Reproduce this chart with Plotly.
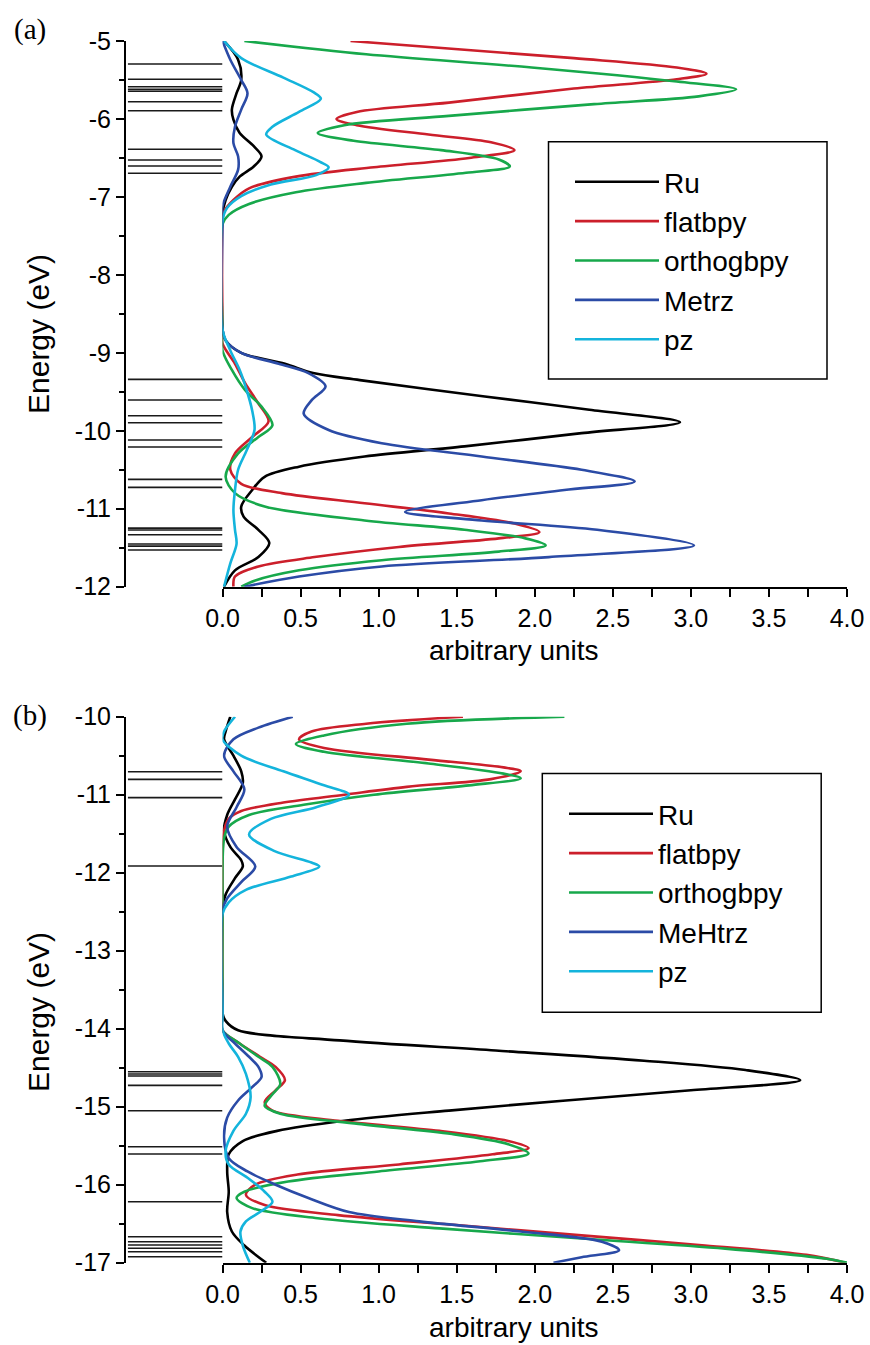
import plotly.graph_objects as go

# ---------------- data: panel (a) ----------------
levels_a = [-5.295, -5.491, -5.586, -5.620, -5.645, -5.779, -5.894,
            -6.389, -6.527, -6.604, -6.697,
            -9.340, -9.606, -9.807, -9.897, -10.119, -10.208, -10.623, -10.726,
            -11.248, -11.273, -11.334, -11.453, -11.479, -11.530]

ru_a_E = [-5.0, -5.24, -5.5, -5.67, -5.88, -6.01, -6.18, -6.35, -6.48, -6.61, -6.74, -6.87, -7.04, -7.21,
          -8.70, -8.84, -9.0, -9.14, -9.26, -9.35, -9.56, -9.73, -9.89, -10.03, -10.2, -10.33, -10.46,
          -10.59, -10.76, -10.97, -11.1, -11.27, -11.44, -11.62, -11.79, -12.0]
ru_a_v = [0.01, 0.10, 0.12, 0.09, 0.06, 0.07, 0.11, 0.20, 0.25, 0.20, 0.11, 0.06, 0.02, 0.0,
          0.0, 0.02, 0.12, 0.40, 0.58, 0.88, 1.68, 2.35, 2.93, 2.30, 1.55, 0.91, 0.49,
          0.27, 0.19, 0.12, 0.135, 0.23, 0.30, 0.23, 0.08, 0.01]

flat_a_E = [-5.0, -5.22, -5.34, -5.42, -5.49, -5.61, -5.79, -5.91, -6.0, -6.08, -6.2, -6.3, -6.4, -6.5,
            -6.62, -6.74, -6.89, -7.04, -7.19, -7.3,
            -8.70, -8.88, -9.14, -9.39, -9.65, -9.88, -10.08, -10.29, -10.5, -10.68, -10.8, -10.93,
            -11.06, -11.19, -11.3, -11.38, -11.49, -11.62, -11.74, -11.87, -12.0]
flat_a_v = [0.82, 2.25, 2.91, 3.10, 2.91, 2.25, 1.45, 0.86, 0.73, 0.86, 1.32, 1.72, 1.87, 1.58,
            0.97, 0.47, 0.17, 0.07, 0.01, 0.0,
            0.0, 0.0, 0.08, 0.145, 0.23, 0.295, 0.19, 0.08, 0.05, 0.12, 0.38, 0.91,
            1.45, 1.87, 2.03, 1.77, 1.13, 0.59, 0.23, 0.08, 0.07]

ortho_a_E = [-5.0, -5.17, -5.34, -5.52, -5.62, -5.71, -5.81, -5.96, -6.08, -6.18, -6.28, -6.4, -6.52,
             -6.61, -6.69, -6.82, -6.94, -7.09, -7.23, -7.35,
             -8.70, -8.97, -9.22, -9.48, -9.69, -9.93, -10.08, -10.29, -10.59, -10.8, -10.97, -11.15,
             -11.27, -11.38, -11.47, -11.55, -11.66, -11.79, -11.92, -12.0]
ortho_a_v = [0.14, 0.92, 1.98, 2.91, 3.29, 3.05, 2.38, 1.45, 0.78, 0.61, 0.84, 1.40, 1.77,
             1.84, 1.56, 0.92, 0.47, 0.17, 0.04, 0.0,
             0.0, 0.0, 0.06, 0.145, 0.25, 0.32, 0.23, 0.10, 0.02, 0.08, 0.27, 0.91,
             1.55, 1.94, 2.07, 1.77, 1.02, 0.49, 0.21, 0.12]

metrz_a_E = [-5.0, -5.24, -5.5, -5.67, -5.88, -6.1, -6.31, -6.48, -6.65, -6.87, -7.12, -7.3,
             -8.70, -8.84, -9.0, -9.14, -9.26, -9.43, -9.61, -9.78, -9.99, -10.16, -10.33, -10.5,
             -10.65, -10.76, -10.89, -11.04, -11.15, -11.27, -11.47, -11.62, -11.74, -11.87, -12.0]
metrz_a_v = [0.0, 0.05, 0.12, 0.16, 0.12, 0.08, 0.07, 0.10, 0.10, 0.05, 0.0, 0.0,
             0.0, 0.02, 0.12, 0.36, 0.55, 0.66, 0.57, 0.52, 0.68, 1.02, 1.66, 2.30,
             2.64, 2.19, 1.66, 1.17, 1.66, 2.40, 3.02, 2.09, 1.02, 0.49, 0.14]

pz_a_E = [-5.0, -5.22, -5.47, -5.66, -5.74, -5.91, -6.1, -6.2, -6.4, -6.55, -6.62, -6.72, -6.84,
          -6.99, -7.14, -7.3,
          -8.70, -8.97, -9.22, -9.48, -9.74, -9.99, -10.25, -10.5, -10.76, -11.02, -11.27, -11.45,
          -11.70, -12.0]
pz_a_v = [0.01, 0.12, 0.39, 0.585, 0.63, 0.49, 0.32, 0.28, 0.465, 0.625, 0.68, 0.60, 0.31,
          0.12, 0.03, 0.0,
          0.0, 0.05, 0.11, 0.155, 0.19, 0.205, 0.155, 0.10, 0.08, 0.07, 0.08, 0.09,
          0.05, 0.01]

# ---------------- data: panel (b) ----------------
levels_b = [-10.705, -10.803, -11.038, -11.914,
            -14.551, -14.581, -14.606, -14.726, -15.051, -15.513, -15.606, -16.218,
            -16.667, -16.731, -16.774, -16.815, -16.859, -16.923]

ru_b_E = [-10.0, -10.19, -10.29, -10.5, -10.7, -10.85, -11.06, -11.26, -11.46, -11.67, -11.84, -11.92,
          -12.07, -12.28, -12.48,
          -13.8, -13.9, -14.02, -14.15, -14.28, -14.41, -14.53, -14.66, -14.79, -14.92, -15.05,
          -15.18, -15.31, -15.44, -15.61, -15.83, -16.09, -16.35, -16.6, -16.78, -17.0]
ru_b_v = [0.05, 0.02, 0.01, 0.07, 0.12, 0.13, 0.08, 0.03, 0.01, 0.05, 0.12, 0.13,
          0.08, 0.02, 0.0,
          0.0, 0.02, 0.10, 0.75, 1.75, 2.70, 3.35, 3.70, 3.00, 2.20, 1.45,
          0.78, 0.35, 0.13, 0.04, 0.03, 0.04, 0.03, 0.06, 0.14, 0.28]

flat_b_E = [-10.0, -10.09, -10.19, -10.29, -10.4, -10.55, -10.65, -10.7, -10.8, -10.9, -11.0, -11.1,
            -11.21, -11.31, -11.46, -12.5,
            -13.8, -14.02, -14.19, -14.36, -14.49, -14.66, -14.79, -14.94, -15.05, -15.18, -15.31,
            -15.44, -15.53, -15.61, -15.74, -15.87, -16.0, -16.13, -16.26, -16.39, -16.52, -16.65,
            -16.78, -16.9, -17.0]
flat_b_v = [1.54, 0.92, 0.57, 0.49, 0.65, 1.32, 1.80, 1.91, 1.72, 1.18, 0.78, 0.39,
            0.12, 0.04, 0.01, 0.0,
            0.0, 0.0, 0.11, 0.24, 0.34, 0.40, 0.34, 0.27, 0.32, 0.74, 1.39,
            1.83, 1.96, 1.73, 1.13, 0.48, 0.21, 0.15, 0.27, 0.74, 1.52, 2.30,
            3.09, 3.74, 3.99]

ortho_b_E = [-10.0, -10.09, -10.24, -10.35, -10.45, -10.6, -10.73, -10.79, -10.88, -11.0, -11.13,
             -11.26, -11.41, -11.56, -12.5,
             -13.8, -14.02, -14.19, -14.36, -14.49, -14.71, -14.84, -14.99, -15.09, -15.22, -15.35,
             -15.48, -15.6, -15.7, -15.83, -15.96, -16.09, -16.17, -16.3, -16.43, -16.56, -16.69,
             -16.82, -16.95, -17.0]
ortho_b_v = [2.19, 1.18, 0.65, 0.47, 0.65, 1.32, 1.80, 1.91, 1.58, 0.97, 0.52,
             0.17, 0.04, 0.01, 0.0,
             0.0, 0.0, 0.11, 0.23, 0.32, 0.37, 0.32, 0.27, 0.37, 0.87, 1.47,
             1.83, 1.96, 1.65, 1.0, 0.42, 0.14, 0.09, 0.19, 0.61, 1.39, 2.30,
             3.22, 3.87, 4.0]

mehtrz_b_E = [-10.0, -10.14, -10.29, -10.5, -10.7, -10.93, -11.16, -11.41, -11.67, -11.92, -12.12,
              -12.33, -12.48,
              -13.8, -14.02, -14.19, -14.36, -14.49, -14.62, -14.75, -14.92, -15.14, -15.4, -15.66,
              -15.83, -16.0, -16.17, -16.35, -16.47, -16.6, -16.73, -16.84, -16.93, -17.0]
mehtrz_b_v = [0.45, 0.23, 0.07, 0.01, 0.07, 0.14, 0.09, 0.03, 0.09, 0.21, 0.12,
              0.03, 0.0,
              0.0, 0.0, 0.08, 0.17, 0.23, 0.25, 0.19, 0.10, 0.03, 0.01, 0.04,
              0.16, 0.34, 0.55, 0.81, 1.26, 1.91, 2.43, 2.54, 2.30, 2.12]

pz_b_E = [-10.0, -10.19, -10.29, -10.5, -10.7, -10.88, -11.0, -11.16, -11.31, -11.51, -11.72, -11.87,
          -11.92, -12.05, -12.22, -12.38, -12.53,
          -13.8, -14.02, -14.19, -14.36, -14.58, -14.88, -15.09, -15.31, -15.57, -15.74, -15.91,
          -16.09, -16.22, -16.35, -16.47, -16.6, -16.78, -17.0]
pz_b_v = [0.08, 0.01, 0.0, 0.12, 0.39, 0.65, 0.81, 0.60, 0.31, 0.17, 0.33, 0.57,
          0.62, 0.44, 0.15, 0.04, 0.0,
          0.0, 0.0, 0.04, 0.10, 0.15, 0.18, 0.15, 0.07, 0.02, 0.04, 0.16,
          0.27, 0.32, 0.24, 0.15, 0.115, 0.13, 0.175]

names_a = ["Ru", "flatbpy", "orthogbpy", "Metrz", "pz"]
names_b = ["Ru", "flatbpy", "orthogbpy", "MeHtrz", "pz"]
colors = ["#000000", "#cc1f2b", "#17a84b", "#2b4ba6", "#14b4dc"]

x_tickvals = [0.0, 0.5, 1.0, 1.5, 2.0, 2.5, 3.0, 3.5, 4.0]
x_ticktext = ["0.0", "0.5", "1.0", "1.5", "2.0", "2.5", "3.0", "3.5", "4.0"]
y_tickvals_a = [-12, -11, -10, -9, -8, -7, -6, -5]
y_tickvals_b = [-17, -16, -15, -14, -13, -12, -11, -10]

FONT = "Liberation Sans, Arial, sans-serif"
W, H = 870, 1345


def px(X):
    return X / W


def py(Y):
    return 1 - Y / H


fig = go.Figure()


def add_levels(levels, xa, ya):
    xs, ys = [], []
    for e in levels:
        xs += [0.02, 1.0, None]
        ys += [e, e, None]
    fig.add_trace(go.Scatter(x=xs, y=ys, mode="lines", xaxis=xa, yaxis=ya,
                             line=dict(color="#1a1a1a", width=1.6), showlegend=False,
                             hoverinfo="skip"))


def add_curves(series, names, xa, ya, legend):
    for (E, v), name, c in zip(series, names, colors):
        fig.add_trace(go.Scatter(x=v, y=E, mode="lines", name=name, xaxis=xa, yaxis=ya,
                                 line=dict(color=c, width=2.6, shape="spline", smoothing=0.9),
                                 legend=legend))


add_levels(levels_a, "x", "y")
add_curves([(ru_a_E, ru_a_v), (flat_a_E, flat_a_v), (ortho_a_E, ortho_a_v),
            (metrz_a_E, metrz_a_v), (pz_a_E, pz_a_v)], names_a, "x2", "y", "legend")
add_levels(levels_b, "x3", "y2")
add_curves([(ru_b_E, ru_b_v), (flat_b_E, flat_b_v), (ortho_b_E, ortho_b_v),
            (mehtrz_b_E, mehtrz_b_v), (pz_b_E, pz_b_v)], names_b, "x4", "y2", "legend2")

x_left, x_zero, x_right = px(126), px(222.5), px(847)
ya_dom = [py(586.7), py(41)]
yb_dom = [py(1262.7), py(716.7)]

lvl_axis = dict(range=[0, 1], visible=False, fixedrange=True, automargin=False)
dos_axis = dict(range=[0, 4], showline=True, linewidth=2, linecolor="black", ticks="outside",
                ticklen=8, tickwidth=2, tickcolor="black", tickvals=x_tickvals, ticktext=x_ticktext,
                minor=dict(dtick=0.25, tick0=0, ticks="outside", ticklen=8, tickwidth=1.5,
                           tickcolor="black"),
                showgrid=False, zeroline=False, automargin=False,
                tickfont=dict(family=FONT, size=25, color="black"))
e_axis = dict(showline=True, linewidth=2, linecolor="black", ticks="outside", ticklen=8,
              tickwidth=2, tickcolor="black", automargin=False,
              minor=dict(dtick=0.5, ticks="outside", ticklen=5, tickwidth=1.5, tickcolor="black"),
              showgrid=False, zeroline=False, tickfont=dict(family=FONT, size=25, color="black"))

leg_common = dict(xanchor="left", yanchor="top", borderwidth=0, bgcolor="rgba(0,0,0,0)",
                  font=dict(family=FONT, size=28, color="black"), itemwidth=84)

fig.update_layout(
    width=W, height=H, margin=dict(l=0, r=0, t=0, b=0, autoexpand=False),
    paper_bgcolor="white", plot_bgcolor="white",
    xaxis=dict(domain=[x_left, x_zero], anchor="y", **lvl_axis),
    xaxis2=dict(domain=[x_zero, x_right], anchor="y", **dos_axis),
    yaxis=dict(domain=ya_dom, anchor="x", range=[-12, -5], tickvals=y_tickvals_a,
               ticktext=[str(v) for v in y_tickvals_a], **e_axis),
    xaxis3=dict(domain=[x_left, x_zero], anchor="y2", **lvl_axis),
    xaxis4=dict(domain=[x_zero, x_right], anchor="y2", **dos_axis),
    yaxis2=dict(domain=yb_dom, anchor="x3", range=[-17, -10], tickvals=y_tickvals_b,
                ticktext=[str(v) for v in y_tickvals_b], **e_axis),
    legend=dict(x=px(570), y=py(157), **leg_common),
    legend2=dict(x=px(564), y=py(789), **leg_common),
    showlegend=True,
)

# legend frames (decoration)
shapes = []
for (x0, y0, x1, y1) in [(548.5, 141.7, 827, 379), (542.3, 773.4, 821.2, 1012.3)]:
    shapes.append(dict(type="rect", xref="paper", yref="paper", x0=px(x0), x1=px(x1),
                       y0=py(y1), y1=py(y0), line=dict(color="black", width=1.5),
                       fillcolor="rgba(0,0,0,0)", layer="below"))
fig.update_layout(shapes=shapes)

ann = []
for y_c, lab in [(30, "(a)"), (715, "(b)")]:
    ann.append(dict(text=lab, x=px(30), y=py(y_c), xref="paper", yref="paper",
                    xanchor="center", yanchor="middle", showarrow=False,
                    font=dict(family="Liberation Serif, Times New Roman, serif",
                              size=29, color="black")))
for y_c in [334, 1012]:
    ann.append(dict(text="Energy (eV)", x=px(38), y=py(y_c), xref="paper", yref="paper",
                    xanchor="center", yanchor="middle", textangle=-90, showarrow=False,
                    font=dict(family=FONT, size=30, color="black")))
for y_c in [650, 1327]:
    ann.append(dict(text="arbitrary units", x=px(514), y=py(y_c), xref="paper", yref="paper",
                    xanchor="center", yanchor="middle", showarrow=False,
                    font=dict(family=FONT, size=28, color="black")))
fig.update_layout(annotations=ann)

# remove the browser's default 8 px body margin so the figure fills the window exactly
fig.write_html("out.html", config={"displayModeBar": False},
               post_script="document.body.style.margin='0';document.body.style.overflow='hidden';")
